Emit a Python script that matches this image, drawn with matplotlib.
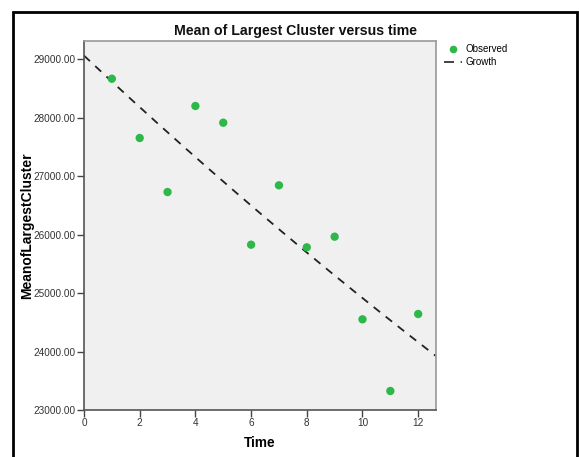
import numpy as np
import matplotlib
matplotlib.use("Agg")
import matplotlib.pyplot as plt
from matplotlib.lines import Line2D
from matplotlib.patches import Rectangle

plt.rcParams['font.family'] = ['Liberation Sans', 'DejaVu Sans']

# Data
time = [1, 2, 3, 4, 5, 6, 7, 8, 9, 10, 11, 12]
observed = [28663, 27650, 26726, 28197, 27911, 25826, 26841, 25781, 25963, 24550, 23325, 24641]
y_ticks = [23000, 24000, 25000, 26000, 27000, 28000, 29000]
x_ticks = [0, 2, 4, 6, 8, 10, 12]

title = "Mean of Largest Cluster versus time"
x_label = "Time"
y_label = "MeanofLargestCluster"

W, H = 579, 457
fig = plt.figure(figsize=(W / 100, H / 100), dpi=100)
fig.patch.set_facecolor('white')

ax = fig.add_axes([84 / W, 1 - 410 / H, (436 - 84) / W, (410 - 41) / H])
ax.set_facecolor('#F0F0F0')

# Growth model fit: ln(y) = b0 + b1 * t
b1, b0 = np.polyfit(np.array(time, float), np.log(np.array(observed, float)), 1)
xmax = 12.64
t_line = np.linspace(0, xmax, 200)
ax.plot(t_line, np.exp(b0 + b1 * t_line), color='#222222', lw=1.3,
        dashes=(4.5, 4), zorder=2)

green = '#2EB84A'
ax.scatter(time, observed, s=36, color=green, edgecolors='none', zorder=3)

ax.set_xlim(0, xmax)
ax.set_ylim(23000, 29308)
ax.set_xticks(x_ticks)
ax.set_xticklabels([str(v) for v in x_ticks])
ax.set_yticks(y_ticks)
ax.set_yticklabels([f"{v:.2f}" for v in y_ticks])
ax.tick_params(axis='both', direction='out', length=5, width=1, color='#444444',
               labelsize=7.2, labelcolor='#333333', pad=1)

for s in ['top', 'right']:
    ax.spines[s].set_color('#999999')
    ax.spines[s].set_linewidth(1.2)
for s in ['left', 'bottom']:
    ax.spines[s].set_color('#555555')
    ax.spines[s].set_linewidth(1.2)

ax.set_xlabel(x_label, fontsize=9.8, fontweight='bold')
ax.set_ylabel(y_label, fontsize=10, fontweight='bold')
ax.xaxis.set_label_coords((260 - 84) / 352, (410 - 443) / 369)
ax.yaxis.set_label_coords((27 - 84) / 352, 0.5)
ax.xaxis.label.set_va('center')
ax.yaxis.label.set_ha('center')
ax.yaxis.label.set_va('center')

fig.text(295 / W, 1 - 31 / H, title, ha='center', va='center',
         fontsize=10.2, fontweight='bold', color='#111111')

handles = [
    Line2D([], [], linestyle='none', marker='o', markersize=5.5,
           markerfacecolor=green, markeredgecolor='none'),
    Line2D([], [], color='#222222', lw=1.2, dashes=(6, 4)),
]
fig.legend(handles, ['Observed', 'Growth'], loc='upper left',
           bbox_to_anchor=(442 / W, 1 - 42 / H), frameon=False, fontsize=7,
           handlelength=1.9, handletextpad=0.3, labelspacing=0.35,
           borderaxespad=0, borderpad=0.2)

# Outer frame
frame = Rectangle((13 / W, -0.05), (577 - 13) / W, 1.05 - 12 / H,
                  transform=fig.transFigure, fill=False, edgecolor='black',
                  linewidth=2, clip_on=False)
fig.patches.append(frame)

fig.savefig('out.png', dpi=100)
